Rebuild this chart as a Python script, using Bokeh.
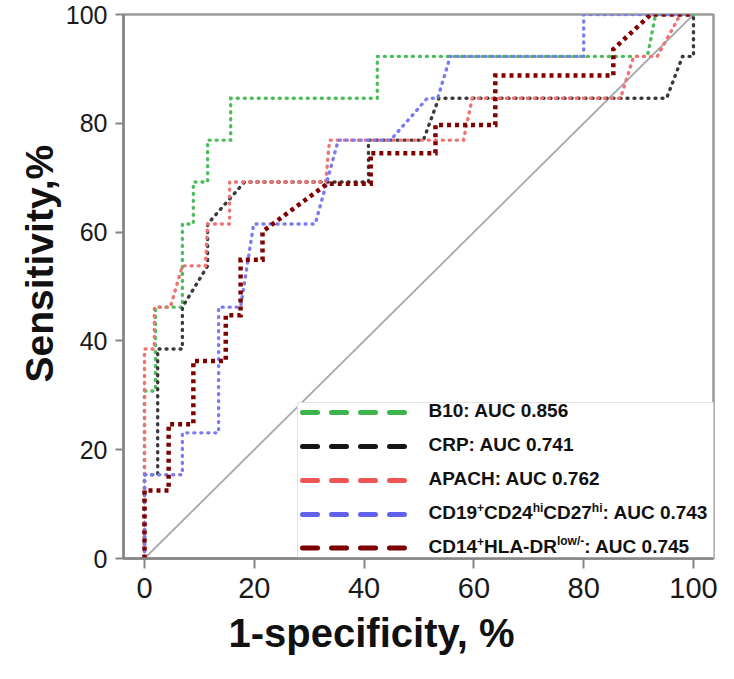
import math
from bokeh.plotting import figure
from bokeh.models import Range1d, FixedTicker, Title
from bokeh.core.properties import value
from bokeh.embed import file_html
from bokeh.resources import INLINE

# ---------------- data (%) ----------------
x_ticks = [0, 20, 40, 60, 80, 100]
y_ticks = [0, 20, 40, 60, 80, 100]

b10_x = [0, 0, 2.0, 2.0, 6.9, 6.9, 8.9, 8.9, 11.5, 11.5, 15.7, 15.7, 42.4, 42.4, 91.6, 93.1, 100]
b10_y = [0, 30.8, 30.8, 46.2, 46.2, 61.5, 61.5, 69.2, 69.2, 76.9, 76.9, 84.6, 84.6, 92.3, 92.3, 100, 100]

crp_x = [0, 0, 2.4, 2.4, 6.9, 6.9, 11.5, 11.5, 18.2, 40.8, 40.8, 50.8, 53.6, 95.1, 98.0, 100, 100]
crp_y = [0, 15.4, 15.4, 38.5, 38.5, 46.2, 53.8, 61.5, 69.2, 69.2, 76.9, 76.9, 84.6, 84.6, 92.3, 92.3, 100]

apach_x = [0, 0, 1.8, 1.8, 4.7, 6.9, 11.1, 11.5, 15.5, 15.5, 33.0, 33.7, 58.1, 59.7, 86.7, 89.1, 93.4, 97.6, 100]
apach_y = [0, 38.5, 38.5, 46.2, 46.2, 53.8, 53.8, 61.5, 61.5, 69.2, 69.2, 76.9, 76.9, 84.6, 84.6, 92.3, 92.3, 100, 100]

cd19_x = [0, 0, 6.9, 6.9, 13.5, 13.5, 17.5, 19.9, 31.1, 35.3, 44.8, 51.5, 53.4, 55.7, 80.0, 80.0, 100]
cd19_y = [0, 15.4, 15.4, 23.1, 23.1, 46.2, 46.2, 61.5, 61.5, 76.9, 76.9, 84.6, 84.6, 92.3, 92.3, 100, 100]

cd14_x = [0, 0, 4.4, 4.4, 8.9, 8.9, 14.8, 14.8, 17.5, 17.5, 21.5, 21.5, 33.3, 41.2, 41.2, 53.0, 53.0,
          63.9, 63.9, 85.4, 85.4, 92.2, 100]
cd14_y = [0, 12.5, 12.5, 24.7, 24.7, 36.3, 36.3, 44.7, 44.7, 54.9, 54.9, 60.1, 68.9, 68.9, 74.5, 74.5, 79.7,
          79.7, 88.8, 88.8, 93.6, 100, 100]

ref_x = [0, 100]
ref_y = [0, 100]

# legend labels: (text, is_superscript)
label_b10 = [("B10: AUC 0.856", False)]
label_crp = [("CRP: AUC 0.741", False)]
label_apach = [("APACH: AUC 0.762", False)]
label_cd19 = [("CD19", False), ("+", True), ("CD24", False), ("hi", True), ("CD27", False), ("hi", True),
              (": AUC 0.743", False)]
label_cd14 = [("CD14", False), ("+", True), ("HLA-DR", False), ("low/-", True), (": AUC 0.745", False)]

x_title = "1-specificity, %"
y_title = "Sensitivity,%"

# ---------------- styles ----------------
series = [
    (b10_x, b10_y, label_b10, dict(line_color="#4cbd5a", line_width=3.4, line_dash="1 6", line_cap="round"), "#3cb44b"),
    (crp_x, crp_y, label_crp, dict(line_color="#3a3a3a", line_width=3.4, line_dash="1 6", line_cap="round"), "#151515"),
    (apach_x, apach_y, label_apach, dict(line_color="#f07272", line_width=3.4, line_dash="1 6", line_cap="round"), "#f05555"),
    (cd19_x, cd19_y, label_cd19, dict(line_color="#7a7af2", line_width=3.4, line_dash="1 6", line_cap="round"), "#6262ee"),
    (cd14_x, cd14_y, label_cd14, dict(line_color="#800000", line_width=4.5, line_dash="4 4", line_cap="butt"), "#7d0000"),
]

# ---------------- geometry (picture pixels = canvas pixels) ----------------
W, H = 718, 663
BL, BR, BT, BB = 123, 5, 14, 105
FL, FR, FT, FB = BL, W - BR, BT, H - BB
PX0, PX100 = 144.0, 693.0
SX = (PX100 - PX0) / 100.0
X_START = (FL - PX0) / SX
X_END = 100 + (FR - PX100) / SX
SY = (FB - FT) / 100.0


def px2x(px):
    return X_START + (px - FL) / SX


def py2y(py):
    return (FB - py) / SY


AXIS_GRAY = "#858585"
FONT = "Liberation Sans"

p = figure(width=W, height=H, output_backend="svg", toolbar_location=None,
           x_range=Range1d(X_START, X_END), y_range=Range1d(0, 100),
           min_border_left=BL, min_border_right=BR, min_border_top=BT, min_border_bottom=BB,
           background_fill_color="white", border_fill_color="white")
p.grid.visible = False
p.outline_line_color = "#9a9a9a"
p.outline_line_width = 2.5

for ax, ticks, fs, so in ((p.xaxis, x_ticks, "29px", 9), (p.yaxis, y_ticks, "25px", 8)):
    ax.ticker = FixedTicker(ticks=ticks)
    ax.axis_line_color = AXIS_GRAY
    ax.axis_line_width = 2.5
    ax.major_tick_line_color = AXIS_GRAY
    ax.major_tick_line_width = 2
    ax.major_tick_in = 0
    ax.minor_tick_line_color = None
    ax.major_label_text_font = FONT
    ax.major_label_text_font_size = fs
    ax.major_label_text_color = "#1a1a1a"
    ax.major_label_standoff = so
p.xaxis.major_tick_out = 10
p.yaxis.major_tick_out = 8

# axis titles (titles aligned to the frame edge and offset like in the picture)
p.add_layout(Title(text=x_title, align="left", offset=228 - FL, standoff=16, text_font=FONT,
                   text_font_style="bold", text_font_size="40px", text_color="#111111"), "below")
p.add_layout(Title(text=y_title, align="left", offset=FB - 382, standoff=4, text_font=FONT,
                   text_font_style="bold", text_font_size="39px", text_color="#111111"), "left")

# diagonal reference line
p.line(ref_x, ref_y, line_color="#a8a8a8", line_width=1.8)

# ROC curves
for xs, ys, _, style, _c in series:
    p.line(xs, ys, line_join="miter", **style)

# ---------------- legend (drawn by hand for the superscripts) ----------------
p.quad(left=[px2x(297)], right=[X_END], bottom=[0], top=[py2y(402)],
       fill_color="white", line_color="#e2e2e2", line_width=1)

ARIAL_BOLD = {
    "A": 722, "B": 722, "C": 722, "D": 722, "H": 722, "L": 611, "P": 667, "R": 722, "U": 722,
    "h": 611, "i": 278, "l": 278, "o": 611, "w": 778,
    "0": 556, "1": 556, "2": 556, "3": 556, "4": 556, "5": 556, "6": 556, "7": 556, "8": 556, "9": 556,
    ":": 333, " ": 278, ".": 278, "+": 584, "-": 333, "/": 278,
}
BASE_FS, SUP_FS = 19, 12


def text_w(s, fs):
    return sum(ARIAL_BOLD.get(ch, 556) for ch in s) / 1000.0 * fs


row_py = [410, 444, 478, 512, 545.5]
text_px = 428
for (xs, ys, label, style, lcolor), rpy in zip(series, row_py):
    yl = py2y(rpy + 2)
    p.segment(x0=[px2x(302)], y0=[yl], x1=[px2x(405)], y1=[yl], line_color=lcolor,
              line_width=5, line_dash="15 14", line_cap="round")
    off = 0.0
    bx, bt, bo, sx_, st, so_ = [], [], [], [], [], []
    for txt, sup in label:
        if sup:
            sx_.append(px2x(text_px)); st.append(txt); so_.append(off)
            off += text_w(txt, SUP_FS)
        else:
            bx.append(px2x(text_px)); bt.append(txt); bo.append(off)
            off += text_w(txt, BASE_FS)
    yr = py2y(rpy)
    p.text(x=bx, y=[yr] * len(bx), text=bt, x_offset=bo, text_font=value(FONT),
           text_font_style="bold", text_font_size=f"{BASE_FS}px", text_color="#111111",
           text_baseline="middle", text_align="left")
    if st:
        p.text(x=sx_, y=[yr] * len(sx_), text=st, x_offset=so_, y_offset=-5, text_font=value(FONT),
               text_font_style="bold", text_font_size=f"{SUP_FS}px", text_color="#111111",
               text_baseline="middle", text_align="left")

open("out.html", "w").write(file_html(p, INLINE))
